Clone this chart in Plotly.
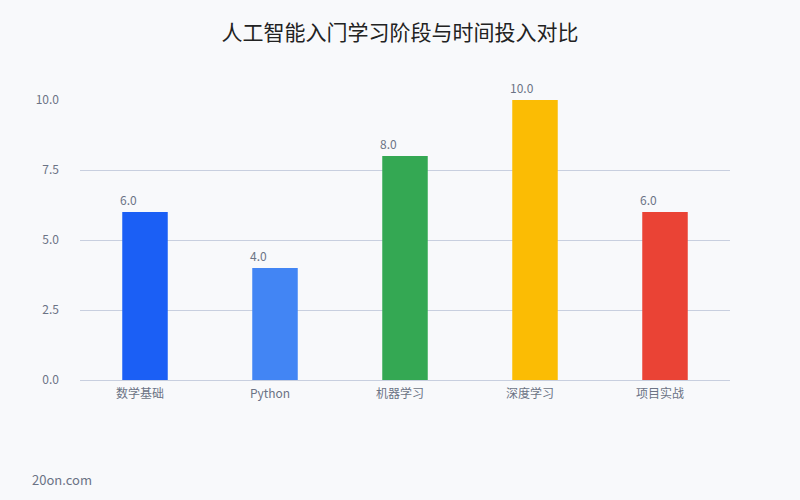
import plotly.graph_objects as go

categories = ["数学基础", "Python", "机器学习", "深度学习", "项目实战"]
values = [6.0, 4.0, 8.0, 10.0, 6.0]
colors = ["#1b5ff5", "#4285f4", "#34a853", "#fbbc04", "#ea4335"]
tick_vals = [0, 2.5, 5, 7.5, 10]
tick_text = ["0.0", "2.5", "5.0", "7.5", "10.0"]

font = "Noto Sans CJK SC, Noto Sans, sans-serif"
txt_color = "#6b7385"

fig = go.Figure(go.Bar(
    x=categories, y=values,
    marker=dict(color=colors, line=dict(width=0)),
    width=0.35,
    hoverinfo="x+y",
))

annotations = [
    dict(x=c, y=v, xref="x", yref="y", text=f"{v:.1f}", showarrow=False,
         xanchor="left", yanchor="middle", xshift=-27, yshift=13,
         font=dict(size=12, color=txt_color, family=font))
    for c, v in zip(categories, values)
]
annotations.append(dict(text="20on.com", xref="paper", yref="paper",
                        x=-0.0769, y=-0.357, xanchor="left", yanchor="middle",
                        showarrow=False, font=dict(size=13, color=txt_color, family=font)))

fig.update_layout(
    width=800, height=500,
    paper_bgcolor="#f8f9fb", plot_bgcolor="#f8f9fb",
    margin=dict(l=80, r=70, t=100, b=120),
    title=dict(text="人工智能入门学习阶段与时间投入对比", x=0.5, xanchor="center",
               y=0.934, yanchor="middle",
               font=dict(size=21, color="#222222", family=font)),
    font=dict(family=font, color=txt_color, size=12),
    showlegend=False,
    xaxis=dict(showgrid=False, showline=True, linecolor="#c8cfdf", linewidth=1,
               ticks="", ticklabelstandoff=3, ticklabelshift=-5,
               tickfont=dict(size=12, color=txt_color)),
    yaxis=dict(range=[0, 10], tickvals=tick_vals, ticktext=tick_text,
               showgrid=True, gridcolor="#c8cfdf", gridwidth=1,
               zeroline=False, showline=False, ticks="", ticklabelstandoff=20,
               tickfont=dict(size=12, color=txt_color)),
    annotations=annotations,
)

fig.write_html("out.html", config={"displayModeBar": False},
               post_script="document.body.style.margin='0';document.body.style.background='#f8f9fb';")
